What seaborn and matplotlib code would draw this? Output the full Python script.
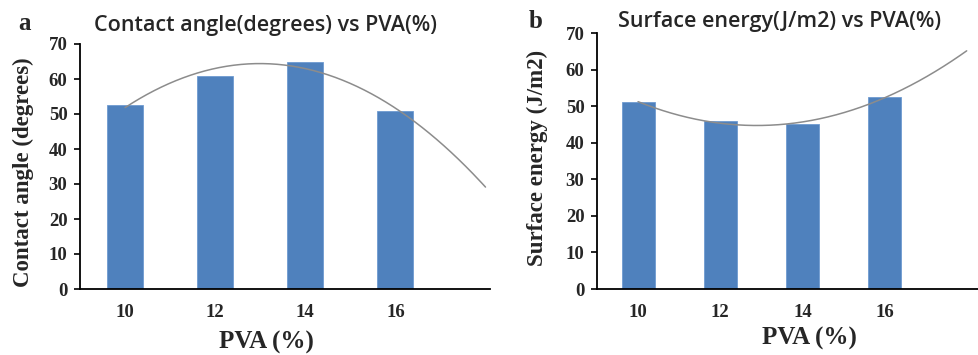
import numpy as np
import pandas as pd
import matplotlib
matplotlib.use("Agg")
import matplotlib.pyplot as plt
import seaborn as sns

pva = ["10", "12", "14", "16"]
contact_angle = [52.5, 61, 65, 51]
surface_energy = [51, 46, 45, 52.5]
yticks = [0, 10, 20, 30, 40, 50, 60, 70]

sns.set_style("white")
plt.rcParams["font.family"] = ["DejaVu Sans"]

BAR = "#4F81BD"
SERIF = ["Liberation Serif", "DejaVu Serif"]
SANS = ["Open Sans", "DejaVu Sans"]

fig = plt.figure(figsize=(9.79, 3.55), dpi=100)
W, H = 979, 355

def px_axes(l, r, t, b):
    return fig.add_axes([l / W, (H - b) / H, (r - l) / W, (b - t) / H])

panels = [
    dict(ax=px_axes(80, 490, 44, 289), vals=contact_angle, xr=4.05,
         title="Contact angle(degrees) vs PVA(%)", tx=266, ty=26,
         ylabel="Contact angle (degrees)", ylx=23, yly=172, letter="a", lx=25, ly=23,
         xlx=266, xly=342, xlabel="PVA (%)"),
    dict(ax=px_axes(597, 979, 33, 289), vals=surface_energy, xr=4.15,
         title="Surface energy(J/m2) vs PVA(%)", tx=780, ty=22,
         ylabel="Surface energy (J/m2)", ylx=537, yly=158, letter="b", lx=536, ly=21,
         xlx=809, xly=338, xlabel="PVA (%)"),
]

for p in panels:
    ax = p["ax"]
    df = pd.DataFrame({"PVA": pva, "val": p["vals"]})
    sns.barplot(data=df, x="PVA", y="val", ax=ax, color=BAR, width=0.4,
                saturation=1, edgecolor="#6f9bd1", linewidth=0.6)
    # 2nd order polynomial trendline with one period forecast
    xi = np.arange(len(pva))
    coef = np.polyfit(xi, p["vals"], 2)
    xs = np.linspace(0, len(pva), 200)
    sns.lineplot(x=xs, y=np.polyval(coef, xs), ax=ax, color="#8c8c8c",
                 linewidth=1.1)
    ax.set_xlim(-0.5, p["xr"])
    ax.set_ylim(0, 70)
    ax.set_yticks(yticks)
    ax.set_xticks(xi)
    ax.set_xticks(np.arange(-0.5, 4.0, 1.0), minor=True)
    ax.tick_params(axis="x", which="major", length=0, pad=11)
    ax.tick_params(axis="x", which="minor", length=4, width=1.2, direction="out", color="black")
    ax.tick_params(axis="y", length=4, width=1.2, direction="out", color="black", left=True, pad=5)
    ax.set_xticklabels(pva, fontfamily=SERIF, fontweight="bold", fontsize=13.5)
    ax.set_yticklabels([str(v) for v in yticks], fontfamily=SERIF, fontweight="bold", fontsize=13.5)
    ax.set_xlabel("")
    ax.set_ylabel("")
    for s in ["top", "right"]:
        ax.spines[s].set_visible(False)
    for s in ["left", "bottom"]:
        ax.spines[s].set_color("black")
        ax.spines[s].set_linewidth(1.3)
    fig.text(p["tx"] / W, 1 - p["ty"] / H, p["title"], ha="center", va="center",
             fontsize=15.5, family=SANS, fontweight="semibold")
    fig.text(p["ylx"] / W, 1 - p["yly"] / H, p["ylabel"], ha="center", va="center",
             rotation=90, fontsize=16.5, family=SERIF, fontweight="bold")
    fig.text(p["xlx"] / W, 1 - p["xly"] / H, p["xlabel"], ha="center", va="center",
             fontsize=18, family=SERIF, fontweight="bold")
    fig.text(p["lx"] / W, 1 - p["ly"] / H, p["letter"], ha="center", va="center",
             fontsize=18, family=SERIF, fontweight="bold")

fig.savefig("out.png", dpi=100)
